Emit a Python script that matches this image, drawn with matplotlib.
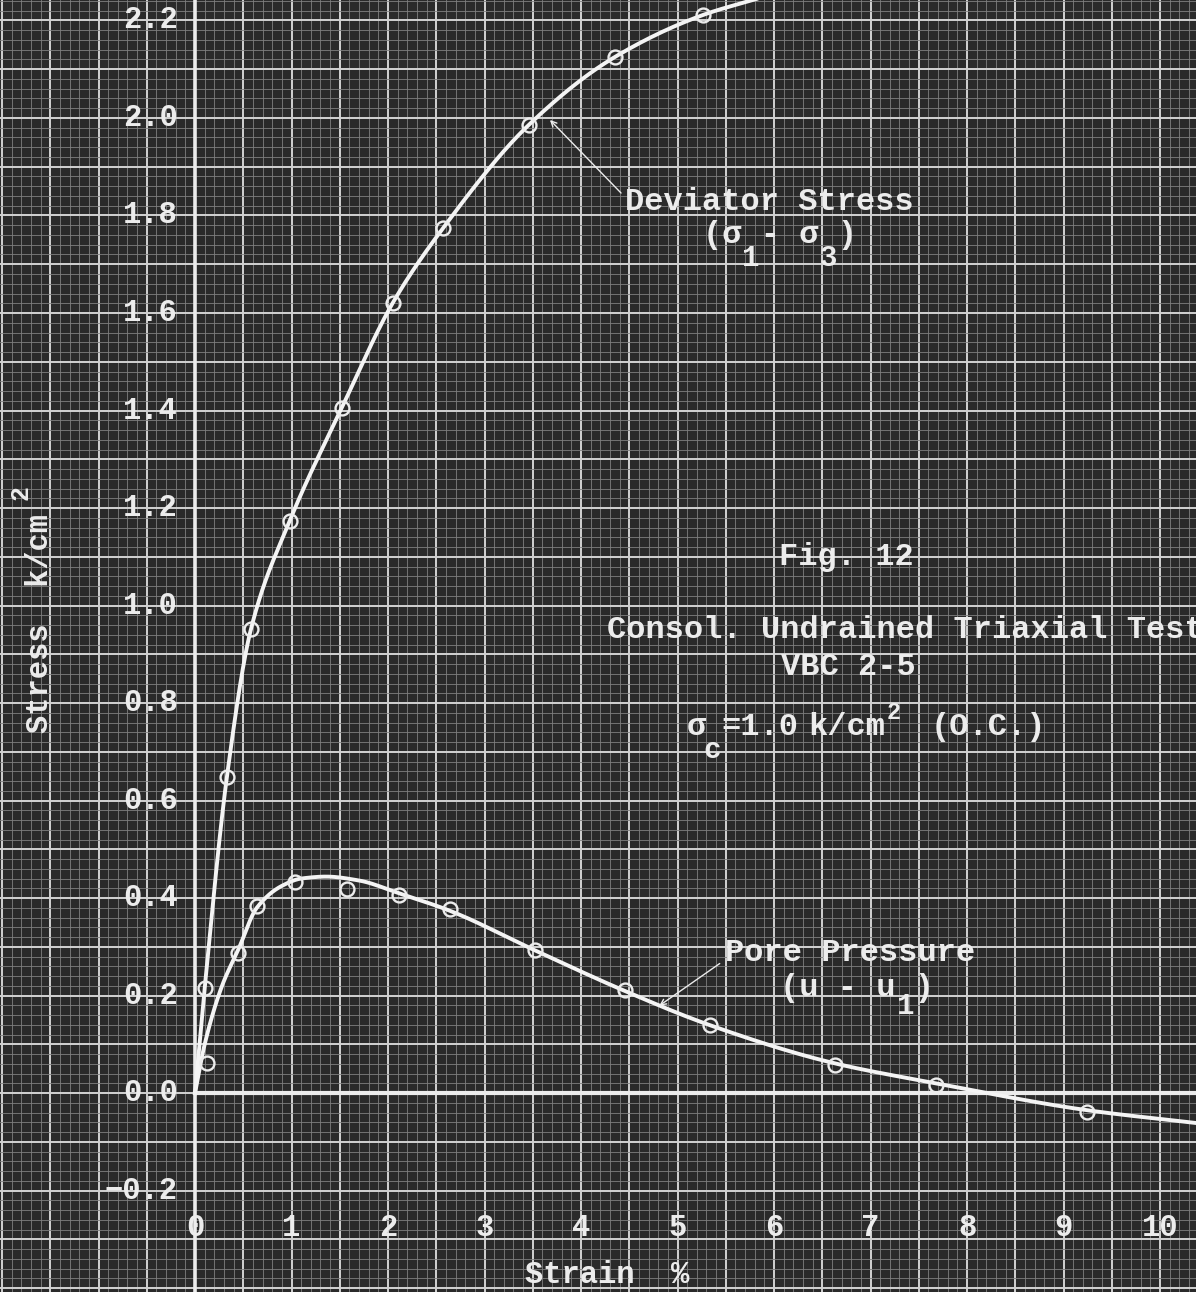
import numpy as np
import matplotlib
matplotlib.use('Agg')
import matplotlib.pyplot as plt
from matplotlib.ticker import MultipleLocator

# measured points (strain %, stress k/cm2)
dev_x = [0.10, 0.33, 0.58, 0.98, 1.52, 2.05, 2.57, 3.46, 4.35, 5.26]
dev_y = [0.215, 0.648, 0.952, 1.173, 1.405, 1.621, 1.774, 1.986, 2.125, 2.211]
pore_x = [0.12, 0.45, 0.64, 1.04, 1.57, 2.11, 2.64, 3.52, 4.46, 5.34, 6.63, 7.68, 9.24]
pore_y = [0.061, 0.288, 0.384, 0.432, 0.418, 0.406, 0.377, 0.293, 0.211, 0.139, 0.057, 0.016, -0.039]

# hand drawn fair curves
dev_curve_x = [0.0, 0.10, 0.33, 0.58, 0.98, 1.52, 2.05, 2.57, 3.46, 4.35, 5.26, 5.78, 6.1]
dev_curve_y = [0.0, 0.215, 0.648, 0.952, 1.173, 1.405, 1.621, 1.774, 1.986, 2.125, 2.211, 2.242, 2.26]
pore_curve_x = [0.0, 0.10, 0.28, 0.45, 0.64, 0.90, 1.10, 1.36, 1.70, 2.11, 2.64, 3.52, 4.46, 5.34, 6.63, 7.68, 9.24, 10.4]
pore_curve_y = [0.0, 0.10, 0.22, 0.295, 0.380, 0.425, 0.440, 0.444, 0.436, 0.410, 0.374, 0.293, 0.209, 0.139, 0.061, 0.020, -0.035, -0.062]

y_ticks = [-0.2, 0.0, 0.2, 0.4, 0.6, 0.8, 1.0, 1.2, 1.4, 1.6, 1.8, 2.0, 2.2]
x_ticks = [0, 1, 2, 3, 4, 5, 6, 7, 8, 9, 10]

BG = '#2a2a2a'
INK = '#ececec'
FONT = 'Liberation Mono'


def smooth(xs, ys, n=24):
    # pchip style hermite through the traced vertices
    x = np.asarray(xs, float)
    y = np.asarray(ys, float)
    h = np.diff(x)
    d = np.diff(y) / h
    m = np.zeros_like(y)
    m[0], m[-1] = d[0], d[-1]
    for i in range(1, len(x) - 1):
        if d[i - 1] * d[i] > 0:
            w1 = 2 * h[i] + h[i - 1]
            w2 = h[i] + 2 * h[i - 1]
            m[i] = (w1 + w2) / (w1 / d[i - 1] + w2 / d[i])
    px, py = [], []
    t = np.linspace(0, 1, n, endpoint=False)
    h00 = 2 * t**3 - 3 * t**2 + 1
    h10 = t**3 - 2 * t**2 + t
    h01 = -2 * t**3 + 3 * t**2
    h11 = t**3 - t**2
    for i in range(len(h)):
        px.append(x[i] + t * h[i])
        py.append(h00 * y[i] + h10 * h[i] * m[i] + h01 * y[i + 1] + h11 * h[i] * m[i + 1])
    px.append([x[-1]])
    py.append([y[-1]])
    return np.concatenate(px), np.concatenate(py)


fig = plt.figure(figsize=(11.96, 12.92), dpi=100, facecolor=BG)
ax = fig.add_axes([0, 0, 1, 1], facecolor=BG)
ax.set_xlim(-2.021, 10.373)
ax.set_ylim(-0.408, 2.242)

# graph paper
ax.xaxis.set_major_locator(MultipleLocator(0.5))
ax.xaxis.set_minor_locator(MultipleLocator(0.1))
ax.yaxis.set_major_locator(MultipleLocator(0.1))
ax.yaxis.set_minor_locator(MultipleLocator(0.02))
ax.grid(which='minor', color='#808080', lw=0.6)
ax.grid(which='major', color='#d2d2d2', lw=1.4)
ax.tick_params(which='both', length=0, labelbottom=False, labelleft=False)
for s in ax.spines.values():
    s.set_visible(False)

# axes lines
ax.axvline(0, color=INK, lw=2.6)
ax.plot([0, 10.4], [0, 0], color=INK, lw=3)

# curves
cx, cy = smooth(dev_curve_x, dev_curve_y)
ax.plot(cx, cy, color='#f4f4f4', lw=2.8)
cx, cy = smooth(pore_curve_x, pore_curve_y)
ax.plot(cx, cy, color='#f4f4f4', lw=2.8)
ax.plot(dev_x, dev_y, 'o', ms=10, mfc='none', mec=INK, mew=1.7)
ax.plot(pore_x, pore_y, 'o', ms=10, mfc='none', mec=INK, mew=1.7)

# tick labels
tk = dict(color=INK, fontsize=22, family=FONT, fontweight='bold')
for v in y_ticks:
    ax.text(-0.18, v, f'{v:.1f}'.replace('-', '−'), ha='right', va='center', **tk)
for v in x_ticks:
    ax.text(v, -0.277, str(v), ha='center', va='center', **tk)

ax.text(-1.606, 0.738, 'Stress  k/cm', rotation=90, ha='center', va='bottom', **tk)
ax.text(-1.813, 1.231, '2', rotation=90, ha='center', va='center', color=INK,
        fontsize=18, family=FONT, fontweight='bold')
ax.text(3.42, -0.373, 'Strain  %', ha='left', va='center', **tk)

an = dict(color=INK, fontsize=23, family=FONT, fontweight='bold')
sub = dict(color=INK, fontsize=21, family=FONT, fontweight='bold')

# curve labels
ax.text(4.456, 1.828, 'Deviator Stress', ha='left', va='center', **an)
ax.text(5.264, 1.760, '(σ - σ )', ha='left', va='center', **an)
ax.text(5.76, 1.713, '1', ha='center', va='center', **sub)
ax.text(6.56, 1.713, '3', ha='center', va='center', **sub)
ax.annotate('', xy=(3.658, 2.0), xytext=(4.435, 1.842),
            arrowprops=dict(arrowstyle='->', color=INK, lw=1.0))

ax.text(5.492, 0.287, 'Pore Pressure', ha='left', va='center', **an)
ax.text(6.062, 0.215, '(u - u )', ha='left', va='center', **an)
ax.text(7.36, 0.179, '1', ha='center', va='center', **sub)
ax.annotate('', xy=(4.788, 0.176), xytext=(5.461, 0.269),
            arrowprops=dict(arrowstyle='->', color=INK, lw=1.0))

# figure notes
ax.text(6.746, 1.0995, 'Fig. 12', ha='center', va='center', **an)
ax.text(4.269, 0.950, 'Consol. Undrained Triaxial Test', ha='left', va='center', **an)
ax.text(6.767, 0.874, 'VBC 2-5', ha='center', va='center', **an)
ax.text(5.10, 0.751, 'σ', ha='left', va='center', **an)
ax.text(5.36, 0.704, 'c', ha='center', va='center', **sub)
ax.text(5.45, 0.751, '=1.0', ha='left', va='center', **an)
ax.text(6.35, 0.751, 'k/cm', ha='left', va='center', **an)
ax.text(7.24, 0.780, '2', ha='center', va='center', color=INK, fontsize=17,
        family=FONT, fontweight='bold')
ax.text(7.62, 0.751, '(O.C.)', ha='left', va='center', **an)

fig.savefig('out.png', dpi=100, facecolor=BG)
